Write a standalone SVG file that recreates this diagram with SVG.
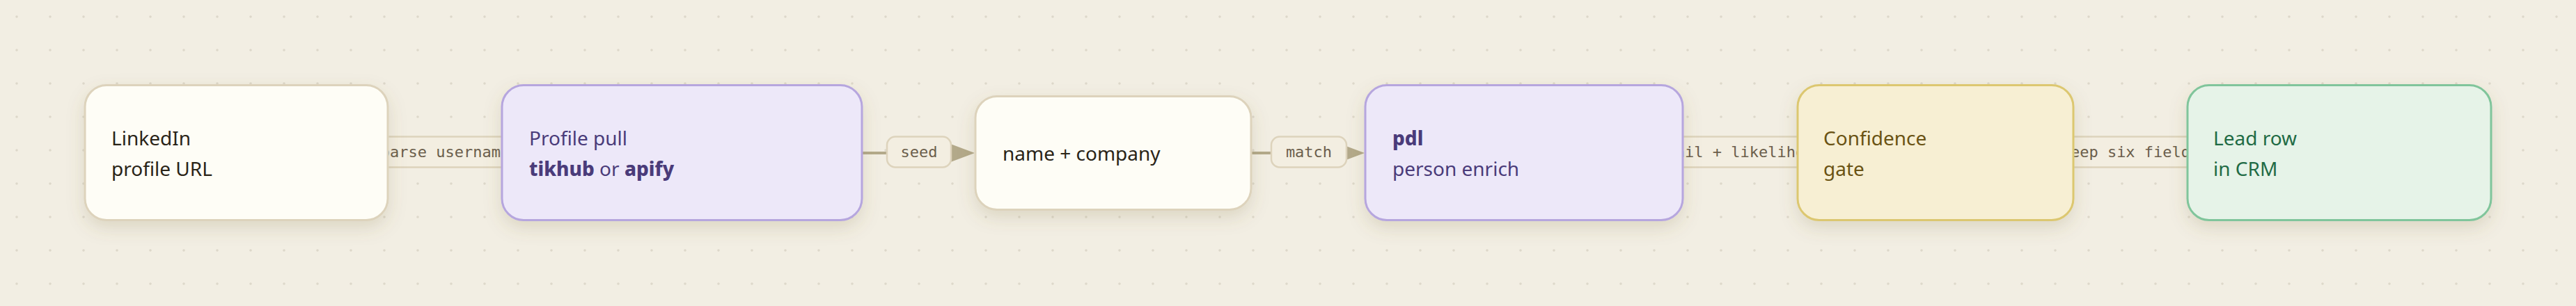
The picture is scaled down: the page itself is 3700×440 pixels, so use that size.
<svg xmlns="http://www.w3.org/2000/svg" width="3700" height="440" viewBox="0 0 3700 440">
  <defs>
    <pattern id="dots" x="0" y="0" width="48" height="48" patternUnits="userSpaceOnUse">
      <circle cx="24" cy="24" r="1.8" fill="#ddd8ca"/>
    </pattern>
    <filter id="shadow" x="-20%" y="-30%" width="140%" height="170%">
      <feDropShadow dx="0" dy="10" stdDeviation="12" flood-color="#7a6a40" flood-opacity="0.18"/>
    </filter>
    <marker id="arrow" markerUnits="userSpaceOnUse" markerWidth="40" markerHeight="30" refX="5" refY="15" orient="auto">
      <path d="M0,0 L40,15 L0,30 Z" fill="#b3a98a"/>
    </marker>
    <style>
      .edge { fill: none; stroke: #b3a98a; stroke-width: 4; }
      .lbox { fill: #f3eee1; stroke: #ddd3bc; stroke-width: 2.5; }
      .ltxt { font-family: "DejaVu Sans Mono", "Liberation Mono", monospace; font-size: 22px; fill: #6b5e4c; text-anchor: middle; }
      .node { stroke-width: 3; filter: url(#shadow); }
      .ntxt { font-family: "Noto Sans", "Open Sans", sans-serif; font-size: 28px; }
      .neutral rect { fill: #fefdf6; stroke: #ddd3bc; }
      .neutral text { fill: #2a2418; }
      .tool rect { fill: #ede8f9; stroke: #b6a6de; }
      .tool text { fill: #4a3b7a; }
      .gate rect { fill: #f7efd3; stroke: #dcc770; }
      .gate text { fill: #6a5314; }
      .out rect { fill: #e6f3e8; stroke: #80c59b; }
      .out text { fill: #1f6b45; }
      .b { font-weight: 800; }
    </style>
  </defs>

  <rect x="0" y="0" width="3700" height="440" fill="#f2eee3"/>
  <rect x="0" y="0" width="3700" height="440" fill="url(#dots)"/>

  <g id="connectors">
    <path class="edge" d="M558,220 H685" marker-end="url(#arrow)"/>
    <rect class="lbox" x="527" y="196.5" width="225" height="44" rx="12"/>
    <text class="ltxt" x="639.5" y="226">parse username</text>

    <path class="edge" d="M1239,220 H1365" marker-end="url(#arrow)"/>
    <rect class="lbox" x="1274" y="196.5" width="92" height="44" rx="12"/>
    <text class="ltxt" x="1320" y="226">seed</text>

    <path class="edge" d="M1798,220 H1925" marker-end="url(#arrow)"/>
    <rect class="lbox" x="1826" y="196.5" width="108" height="44" rx="12"/>
    <text class="ltxt" x="1880" y="226">match</text>

    <path class="edge" d="M2418,220 H2546" marker-end="url(#arrow)"/>
    <rect class="lbox" x="2360" y="196.5" width="279" height="44" rx="12"/>
    <text class="ltxt" x="2499.5" y="226">email + likelihood</text>

    <path class="edge" d="M2979,220 H3106" marker-end="url(#arrow)"/>
    <rect class="lbox" x="2940" y="196.5" width="240" height="44" rx="12"/>
    <text class="ltxt" x="3060" y="226">keep six fields</text>
  </g>

  <g id="node-linkedin" class="neutral">
    <rect class="node" x="122" y="122.5" width="435" height="194" rx="31"/>
    <text class="ntxt" x="160" y="209">LinkedIn</text>
    <text class="ntxt" x="160" y="253">profile URL</text>
  </g>

  <g id="node-profile-pull" class="tool">
    <rect class="node" x="721" y="122.5" width="517" height="194" rx="31"/>
    <text class="ntxt" x="760" y="209">Profile pull</text>
    <text class="ntxt" x="760" y="253"><tspan class="b">tikhub</tspan> or <tspan class="b">apify</tspan></text>
  </g>

  <g id="node-name-company" class="neutral">
    <rect class="node" x="1401" y="138.5" width="396" height="163" rx="31"/>
    <text class="ntxt" x="1440" y="231">name + company</text>
  </g>

  <g id="node-pdl" class="tool">
    <rect class="node" x="1961" y="122.5" width="456" height="194" rx="31"/>
    <text class="ntxt b" x="2000" y="209">pdl</text>
    <text class="ntxt" x="2000" y="253">person enrich</text>
  </g>

  <g id="node-confidence" class="gate">
    <rect class="node" x="2582" y="122.5" width="396" height="194" rx="31"/>
    <text class="ntxt" x="2619" y="209">Confidence</text>
    <text class="ntxt" x="2619" y="253">gate</text>
  </g>

  <g id="node-lead-row" class="out">
    <rect class="node" x="3142" y="122.5" width="436" height="194" rx="31"/>
    <text class="ntxt" x="3179" y="209">Lead row</text>
    <text class="ntxt" x="3179" y="253">in CRM</text>
  </g>
</svg>
